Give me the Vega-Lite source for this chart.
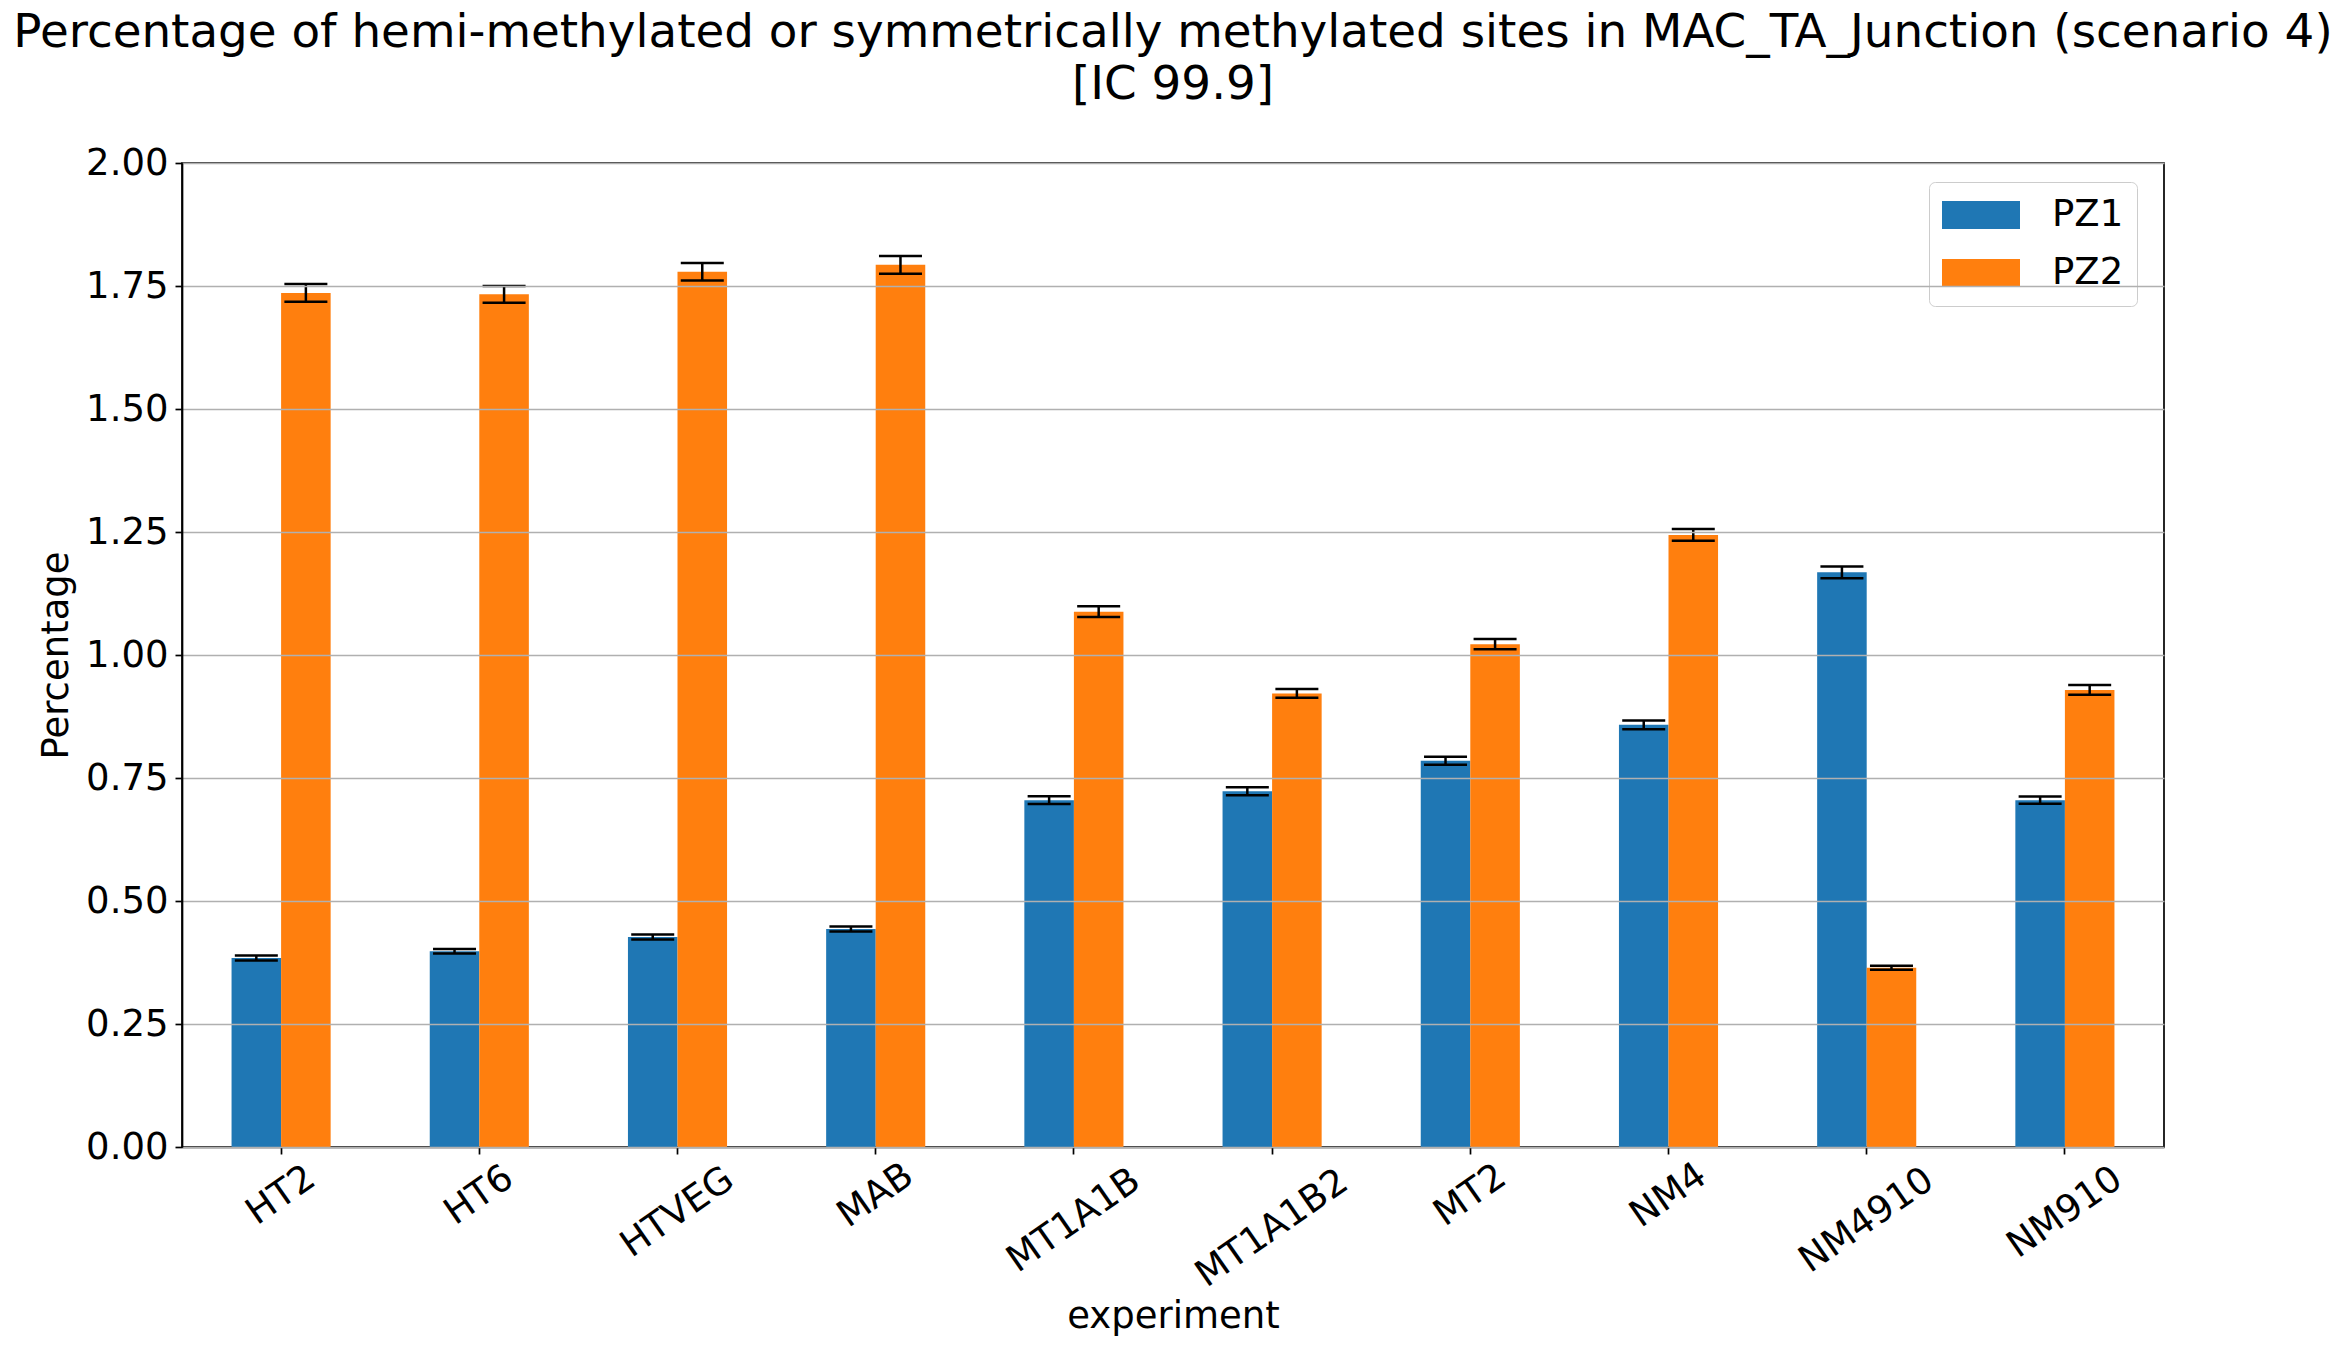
{
  "$schema": "https://vega.github.io/schema/vega-lite/v6.json",
  "autosize": {"type": "none"},
  "width": 1982,
  "height": 984,
  "padding": {"left": 182, "top": 163, "right": 182, "bottom": 203},
  "background": "white",
  "config": {
    "font": "DejaVu Sans",
    "view": {"stroke": "black", "strokeWidth": 1.7},
    "axis": {
      "labelFont": "DejaVu Sans",
      "titleFont": "DejaVu Sans",
      "labelFontSize": 37,
      "titleFontSize": 37,
      "labelColor": "black",
      "titleColor": "black",
      "titleFontWeight": "normal",
      "tickSize": 7,
      "tickWidth": 1.7,
      "tickColor": "black",
      "domainColor": "black",
      "domainWidth": 1.7
    }
  },
  "title": {
    "text": ["Percentage of hemi-methylated or symmetrically methylated sites in MAC_TA_Junction (scenario 4)", "[IC 99.9]"],
    "fontSize": 46.8,
    "font": "DejaVu Sans",
    "fontWeight": "normal",
    "color": "black",
    "anchor": "middle",
    "frame": "group",
    "baseline": "bottom",
    "lineHeight": 52,
    "offset": -12
  },
  "data": {
    "values": [
      {"experiment": "HT2", "group": "PZ1", "value": 0.384, "lo": 0.379, "hi": 0.389},
      {"experiment": "HT2", "group": "PZ2", "value": 1.736, "lo": 1.718, "hi": 1.754},
      {"experiment": "HT6", "group": "PZ1", "value": 0.398, "lo": 0.3935, "hi": 0.4025},
      {"experiment": "HT6", "group": "PZ2", "value": 1.733, "lo": 1.716, "hi": 1.750},
      {"experiment": "HTVEG", "group": "PZ1", "value": 0.427, "lo": 0.422, "hi": 0.432},
      {"experiment": "HTVEG", "group": "PZ2", "value": 1.779, "lo": 1.761, "hi": 1.797},
      {"experiment": "MAB", "group": "PZ1", "value": 0.443, "lo": 0.438, "hi": 0.448},
      {"experiment": "MAB", "group": "PZ2", "value": 1.793, "lo": 1.775, "hi": 1.811},
      {"experiment": "MT1A1B", "group": "PZ1", "value": 0.705, "lo": 0.697, "hi": 0.713},
      {"experiment": "MT1A1B", "group": "PZ2", "value": 1.088, "lo": 1.077, "hi": 1.099},
      {"experiment": "MT1A1B2", "group": "PZ1", "value": 0.723, "lo": 0.715, "hi": 0.731},
      {"experiment": "MT1A1B2", "group": "PZ2", "value": 0.922, "lo": 0.913, "hi": 0.931},
      {"experiment": "MT2", "group": "PZ1", "value": 0.785, "lo": 0.777, "hi": 0.793},
      {"experiment": "MT2", "group": "PZ2", "value": 1.022, "lo": 1.0115, "hi": 1.0325},
      {"experiment": "NM4", "group": "PZ1", "value": 0.858, "lo": 0.849, "hi": 0.867},
      {"experiment": "NM4", "group": "PZ2", "value": 1.244, "lo": 1.232, "hi": 1.256},
      {"experiment": "NM4910", "group": "PZ1", "value": 1.168, "lo": 1.156, "hi": 1.180},
      {"experiment": "NM4910", "group": "PZ2", "value": 0.3645, "lo": 0.3605, "hi": 0.3685},
      {"experiment": "NM910", "group": "PZ1", "value": 0.705, "lo": 0.6975, "hi": 0.7125},
      {"experiment": "NM910", "group": "PZ2", "value": 0.929, "lo": 0.919, "hi": 0.939}
    ]
  },
  "encoding": {
    "x": {
      "field": "experiment",
      "type": "nominal",
      "sort": null,
      "scale": {"paddingInner": 0.5, "paddingOuter": 0.25},
      "title": "experiment",
      "axis": {
        "labelAngle": -35,
        "labelAlign": "center",
        "labelBaseline": "middle",
        "labelPadding": {
          "condition": [
            {"test": "length(datum.label) >= 7", "value": 74},
            {"test": "length(datum.label) == 6", "value": 66},
            {"test": "length(datum.label) == 5", "value": 58}
          ],
          "value": 41
        },
        "grid": false,
        "titleY": 180,
        "titleBaseline": "alphabetic",
        "titleAlign": "center"
      }
    },
    "xOffset": {
      "field": "group",
      "type": "nominal",
      "scale": {"paddingInner": 0, "paddingOuter": 0}
    }
  },
  "layer": [
    {
      "mark": {"type": "bar"},
      "encoding": {
        "y": {
          "field": "value",
          "type": "quantitative",
          "scale": {"domain": [0, 2], "nice": false},
          "title": "Percentage",
          "axis": {
            "values": [0, 0.25, 0.5, 0.75, 1, 1.25, 1.5, 1.75, 2],
            "format": ".2f",
            "grid": true,
            "gridColor": "#b0b0b0",
            "gridWidth": 1.7,
            "zindex": 1,
            "labelPadding": 7,
            "titleX": -115,
            "titleY": 492,
            "titleBaseline": "alphabetic",
            "titleAlign": "center"
          }
        },
        "color": {
          "field": "group",
          "type": "nominal",
          "scale": {"domain": ["PZ1", "PZ2"], "range": ["#1f77b4", "#ff7f0e"]},
          "legend": {
            "title": null,
            "orient": "none",
            "legendX": 1747,
            "legendY": 19,
            "symbolType": "M-1,-0.359H1V0.359H-1Z",
            "symbolSize": 6084,
            "symbolStrokeWidth": 0,
            "symbolOpacity": 1,
            "labelFontSize": 37,
            "labelFont": "DejaVu Sans",
            "labelColor": "black",
            "labelOffset": 32,
            "padding": 13,
            "clipHeight": 40,
            "rowPadding": 18,
            "strokeColor": "#cccccc",
            "cornerRadius": 6,
            "fillColor": "rgba(255,255,255,0.8)"
          }
        }
      }
    },
    {
      "mark": {"type": "rule", "color": "black", "strokeWidth": 2.5},
      "encoding": {
        "y": {"field": "lo", "type": "quantitative"},
        "y2": {"field": "hi"}
      }
    },
    {
      "mark": {"type": "tick", "color": "black", "thickness": 2.5, "size": 43, "orient": "horizontal", "opacity": 1},
      "encoding": {
        "y": {"field": "lo", "type": "quantitative"}
      }
    },
    {
      "mark": {"type": "tick", "color": "black", "thickness": 2.5, "size": 43, "orient": "horizontal", "opacity": 1},
      "encoding": {
        "y": {"field": "hi", "type": "quantitative"}
      }
    }
  ]
}
